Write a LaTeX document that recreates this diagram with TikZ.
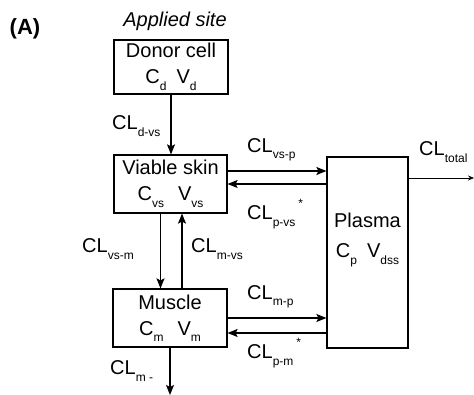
\documentclass[tikz,border=0pt]{standalone}
\usepackage{fontspec}
\setmainfont{Liberation Sans}
\usetikzlibrary{arrows.meta}
\newcommand{\lsub}[1]{\raisebox{-0.32em}{\fontsize{12}{12}\selectfont #1}}
\newcommand{\lstar}{\hspace{3pt}\raisebox{0.6em}{\fontsize{12}{12}\selectfont *}}
\begin{document}
\begin{tikzpicture}[x=1pt,y=-1pt,
  box/.style={draw,line width=1.2pt,rectangle,inner sep=0pt,align=center,font=\fontsize{20}{26}\selectfont},
  lbl/.style={anchor=west,inner sep=0pt,font=\fontsize{20}{22}\selectfont},
  arr/.style={line width=1.2pt,-{Stealth[length=10pt,width=8pt,inset=2pt]}}]
\useasboundingbox (0,0) rectangle (474,395);
\node[font=\bfseries\fontsize{22}{24}\selectfont,inner sep=0pt] (tagA) at (25,29) {(A)};
\node[font=\itshape\fontsize{20}{22}\selectfont,inner sep=0pt] (site) at (175,21) {Applied site};
\node[box,minimum width=114pt,minimum height=54pt] (donor) at (171,67) {Donor cell\\C\lsub{d}\hspace{0.5em}V\lsub{d}};
\node[box,minimum width=113pt,minimum height=58pt] (vs) at (170.5,184) {Viable skin\\C\lsub{vs}\hspace{0.7em}V\lsub{vs}};
\node[box,minimum width=114pt,minimum height=58pt] (mus) at (170,318) {Muscle\\C\lsub{m}\hspace{0.7em}V\lsub{m}};
\node[box,minimum width=81pt,minimum height=191pt] (plasma) at (367.5,252.5) {};
\node[box,draw=none,font=\fontsize{20}{30}\selectfont] (ptext) at (367.5,240) {Plasma\\C\lsub{p}\hspace{0.5em}V\lsub{dss}};
\coordinate (out) at (474,178);
\coordinate (mout) at (170,395);
% connectors
\draw[arr] (donor.south) -- (donor.south |- vs.north);
\draw[arr] ([xshift=-10pt]vs.south) -- ([xshift=-10pt]vs.south |- mus.north);
\draw[arr] ([xshift=12pt]mus.north) -- ([xshift=12pt]mus.north |- vs.south);
\draw[arr] ([yshift=13pt]vs.east) -- ([yshift=13pt]vs.east -| plasma.west);
\draw[arr] (plasma.west |- vs.east) -- (vs.east);
\draw[arr] (mus.east) -- (mus.east -| plasma.west);
\draw[arr] ([yshift=-15pt]mus.east -| plasma.west) -- ([yshift=-15pt]mus.east);
\draw[line width=0.6pt,-{Stealth[length=6pt,width=5pt]}] (plasma.east |- out) -- (out);
\draw[arr] (mus.south -| mout) -- (mout);
% labels
\node[lbl] (l1) at (112,126) {CL\lsub{d-vs}};
\node[lbl] (l2) at (247,150) {CL\lsub{vs-p}};
\node[lbl] (l3) at (247,214) {CL\lsub{p-vs}\lstar};
\node[lbl] (l4) at (82,249) {CL\lsub{vs-m}};
\node[lbl] (l5) at (191,249) {CL\lsub{m-vs}};
\node[lbl] (l6) at (247,297) {CL\lsub{m-p}};
\node[lbl] (l7) at (247,353) {CL\lsub{p-m}\lstar};
\node[lbl] (l8) at (110,371) {CL\lsub{m -}};
\node[lbl] (l9) at (419,152) {CL\lsub{total}};
\end{tikzpicture}
\end{document}
